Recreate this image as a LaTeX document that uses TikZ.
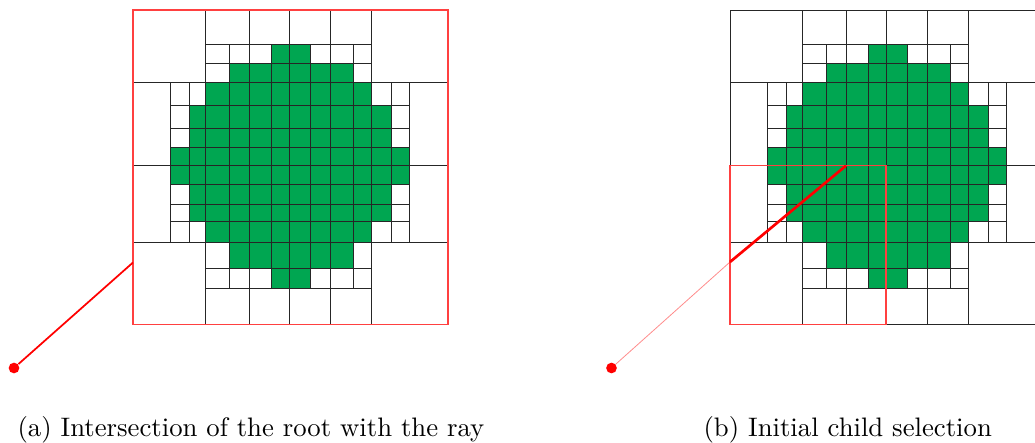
\documentclass[tikz,border=0pt]{standalone}
\usepackage{tikz}

\definecolor{cellgreen}{RGB}{0,166,81}

\tikzset{
  cell/.style={draw=black!85,line width=0.35pt},
  rootbox/.style={draw=red!75,line width=0.4pt},
  raydot/.style={circle,fill=red,inner sep=0pt,minimum size=4pt},
  ray/.style={red,line width=0.65pt},
  rayfaint/.style={red,opacity=0.45,line width=0.3pt},
  raybold/.style={red,line width=1pt},
  caption/.style={anchor=base west,inner sep=0pt}
}

\newcommand{\quadgrid}{%
  \foreach \i/\p in {0/133, 2/170, 3/189, 4/205, 5/229, 6/249, 7/271, 8/289,
                     9/310, 10/330, 11/353, 12/371, 13/391, 14/409, 16/448}
    \coordinate (x\i) at (\p,0);
  \foreach \j/\p in {0/10, 2/44.3, 3/63.3, 4/82.7, 5/105.7, 6/128.3, 7/147.3, 8/165.7,
                     9/184.3, 10/204.3, 11/221.7, 12/242.3, 13/268.3, 14/288, 16/324.7}
    \coordinate (y\j) at (0,\p);
  \foreach \a/\b/\c/\d in {0/0/4/4, 12/0/16/4, 4/0/6/2, 6/0/8/2, 8/0/10/2, 10/0/12/2,
                           0/4/2/8, 14/4/16/8, 0/8/2/12, 14/8/16/12,
                           0/12/4/16, 12/12/16/16, 4/14/6/16, 6/14/8/16, 8/14/10/16, 10/14/12/16}
    \draw[cell,fill=white] (x\a|-y\b) rectangle (x\c|-y\d);
  \foreach \j/\a/\b/\ga/\gb in {2/4/11/7/8, 3/4/11/5/10, 4/2/13/4/11, 5/2/13/3/12,
                                6/2/13/3/12, 7/2/13/2/13, 8/2/13/2/13, 9/2/13/3/12,
                                10/2/13/3/12, 11/2/13/4/11, 12/4/11/5/10, 13/4/11/7/8} {
    \pgfmathtruncatemacro\jj{\j+1}
    \foreach \i in {\a,...,\b} {
      \pgfmathtruncatemacro\ii{\i+1}
      \def\cf{white}
      \ifnum\i<\ga\else\ifnum\i>\gb\else\def\cf{cellgreen}\fi\fi
      \draw[cell,fill=\cf] (x\i|-y\j) rectangle (x\ii|-y\jj);
    }
  }
}

\begin{document}
\begin{tikzpicture}[x=0.374pt,y=-0.374pt]
  \useasboundingbox (0,0) rectangle (1035,443);
  \clip (0,0) rectangle (1035,443);

  \begin{scope}
    \quadgrid
    \draw[rootbox] (x0|-y0) rectangle (x16|-y16);
    \node[raydot] (orig) at (14,368) {};
    \coordinate (entry) at (133,262.5);
    \draw[ray] (orig) -- (entry);
  \end{scope}

  \begin{scope}[shift={(597,0)}]
    \quadgrid
    \draw[rootbox] (x0|-y8) rectangle (x8|-y16);
    \node[raydot] (origb) at (14.5,368) {};
    \coordinate (entryb) at (133,262);
    \coordinate (exitb) at (x6|-y8);
    \draw[rayfaint] (origb) -- (entryb);
    \draw[raybold] (entryb) -- (exitb);
  \end{scope}

  \node[caption] (capa) at (17,436) {(a) Intersection of the root with the ray};
  \node[caption] (capb) at (703,436) {(b) Initial child selection};
\end{tikzpicture}
\end{document}
